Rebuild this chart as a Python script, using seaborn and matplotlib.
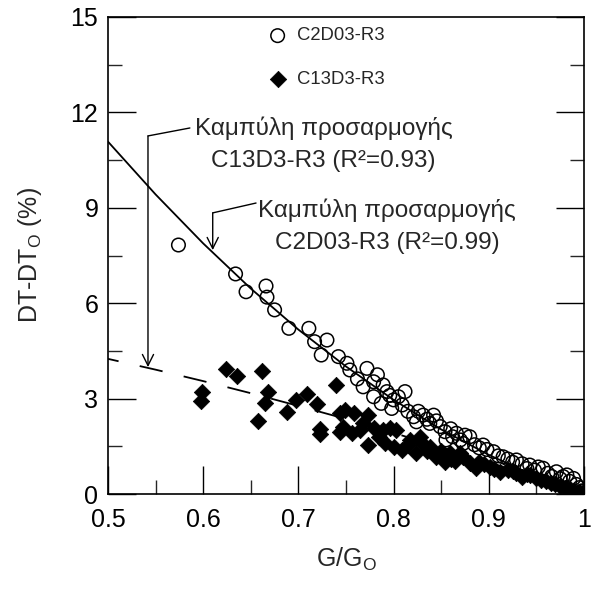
import matplotlib
matplotlib.use("Agg")
import matplotlib.pyplot as plt
from matplotlib.ticker import MultipleLocator
import numpy as np
import pandas as pd
import seaborn as sns

# ---- data ----
c2_g = [0.574, 0.634, 0.645, 0.666, 0.667, 0.675, 0.690, 0.711, 0.717, 0.730,
        0.724, 0.742, 0.751, 0.754, 0.772, 0.768, 0.779, 0.779, 0.789, 0.793,
        0.787, 0.800, 0.805, 0.812, 0.809, 0.798, 0.821, 0.824, 0.831, 0.842,
        0.838, 0.849, 0.854, 0.866, 0.855, 0.880, 0.873, 0.894, 0.905, 0.915,
        0.929, 0.943, 0.957, 0.971, 0.982, 0.989, 0.762, 0.783, 0.796, 0.815,
        0.826, 0.835, 0.845, 0.860, 0.862, 0.870, 0.875, 0.885, 0.890, 0.898,
        0.910, 0.920, 0.925, 0.935, 0.940, 0.948, 0.952, 0.962, 0.966, 0.975,
        0.978, 0.985, 0.992, 0.995, 0.998, 1.000, 0.999]
c2_dt = [7.83, 6.92, 6.36, 6.54, 6.19, 5.79, 5.21, 5.21, 4.79, 4.84,
         4.37, 4.32, 4.11, 3.90, 3.95, 3.37, 3.53, 3.06, 3.43, 3.22,
         2.85, 2.96, 3.06, 3.22, 2.80, 2.69, 2.43, 2.27, 2.48, 2.48,
         2.22, 2.12, 1.96, 1.91, 1.70, 1.80, 1.59, 1.54, 1.33, 1.17,
         1.07, 0.91, 0.81, 0.70, 0.60, 0.49, 3.62, 3.75, 3.10, 2.60,
         2.60, 2.35, 2.30, 2.05, 1.80, 1.70, 1.85, 1.55, 1.45, 1.40,
         1.20, 1.10, 1.00, 0.95, 0.80, 0.75, 0.85, 0.65, 0.55, 0.48,
         0.55, 0.40, 0.30, 0.20, 0.10, 0.03, 0.08]

c13_g = [0.599, 0.598, 0.624, 0.636, 0.662, 0.668, 0.665, 0.658, 0.688, 0.698,
         0.709, 0.720, 0.723, 0.723, 0.740, 0.744, 0.744, 0.749, 0.758, 0.773,
         0.768, 0.747, 0.756, 0.779, 0.789, 0.796, 0.803, 0.773, 0.791, 0.800,
         0.809, 0.824, 0.817, 0.828, 0.838, 0.845, 0.854, 0.859, 0.873, 0.880,
         0.887, 0.901, 0.912, 0.929, 0.943, 0.950, 0.955, 0.960, 0.965, 0.970,
         0.975, 0.980, 0.985, 0.990, 0.995, 1.000, 0.920, 0.935, 0.860, 0.870,
         0.890, 0.815, 0.835, 0.785, 0.765, 0.830, 0.850, 0.865, 0.895, 0.905,
         0.925, 0.940]
c13_dt = [3.22, 2.92, 3.92, 3.71, 3.87, 3.22, 2.85, 2.30, 2.59, 2.96,
          3.14, 2.83, 2.03, 1.89, 3.43, 2.55, 1.96, 2.64, 2.54, 2.48,
          2.22, 2.12, 1.91, 2.06, 2.01, 2.06, 2.01, 1.54, 1.59, 1.49,
          1.38, 1.28, 1.70, 1.80, 1.49, 1.17, 1.02, 1.28, 1.17, 0.97,
          0.81, 0.86, 0.70, 0.65, 0.60, 0.50, 0.45, 0.40, 0.35, 0.30,
          0.25, 0.20, 0.15, 0.10, 0.05, 0.00, 0.75, 0.55, 1.10, 1.30,
          1.00, 1.55, 1.35, 1.80, 2.00, 1.60, 1.35, 1.05, 0.95, 0.80,
          0.72, 0.62]

fit_g = [0.50, 0.55, 0.60, 0.65, 0.70, 0.75, 0.80, 0.85, 0.90, 0.95, 1.00]
fit_c2 = [11.08, 9.42, 7.88, 6.46, 5.17, 4.01, 2.96, 2.03, 1.23, 0.55, 0.00]
fit_c13 = [4.25, 3.91, 3.55, 3.17, 2.77, 2.36, 1.92, 1.47, 1.00, 0.51, 0.00]

x_ticks = [0.5, 0.6, 0.7, 0.8, 0.9, 1.0]
x_ticklabels = ["0.5", "0.6", "0.7", "0.8", "0.9", "1"]
y_ticks = [0, 3, 6, 9, 12, 15]

label_c2 = "C2D03-R3"
label_c13 = "C13D3-R3"
ann_c13 = "Καμπύλη προσαρμογής\nC13D3-R3 (R²=0.93)"
ann_c2 = "Καμπύλη προσαρμογής\nC2D03-R3 (R²=0.99)"

# ---- style ----
sns.set_style("ticks")
plt.rcParams["font.family"] = ["Liberation Sans", "DejaVu Sans"]
plt.rcParams["mathtext.fontset"] = "custom"
plt.rcParams["mathtext.rm"] = "Liberation Sans"
plt.rcParams["mathtext.it"] = "Liberation Sans:italic"
plt.rcParams["mathtext.bf"] = "Liberation Sans:bold"

W, H = 593, 603
fig = plt.figure(figsize=(W / 100, H / 100), dpi=100)
ax = fig.add_axes([108 / W, 109 / H, 476 / W, 477 / H])

df_c2 = pd.DataFrame({"g": c2_g, "dt": c2_dt})
df_c13 = pd.DataFrame({"g": c13_g, "dt": c13_dt})
df_fit = pd.DataFrame({"g": fit_g, "c2": fit_c2, "c13": fit_c13})

sns.scatterplot(data=df_c2, x="g", y="dt", ax=ax, marker="o", s=95,
                facecolors="none", edgecolor="black", linewidth=1.1,
                label=label_c2, zorder=3)
sns.scatterplot(data=df_c13, x="g", y="dt", ax=ax, marker="D", s=70,
                color="black", edgecolor="black", linewidth=0.5,
                label=label_c13, zorder=4)
sns.lineplot(data=df_fit, x="g", y="c2", ax=ax, color="black", linewidth=1.3,
             zorder=5, legend=False)
sns.lineplot(data=df_fit, x="g", y="c13", ax=ax, color="black", linewidth=1.3,
             linestyle=(7, (13, 12)), zorder=5, legend=False)

ax.set_xlim(0.5, 1.0)
ax.set_ylim(0, 15)
ax.set_xticks(x_ticks, x_ticklabels)
ax.set_yticks(y_ticks)
ax.xaxis.set_minor_locator(MultipleLocator(0.05))
ax.yaxis.set_minor_locator(MultipleLocator(1.5))
ax.tick_params(which="major", direction="in", length=20.5, width=1.0,
               labelsize=18, right=True, top=False, colors="black")
ax.tick_params(axis="y", which="major", pad=7)
ax.tick_params(axis="x", which="major", pad=10)
ax.tick_params(which="minor", direction="in", length=10, width=1.0,
               right=True, top=False)
for sp in ax.spines.values():
    sp.set_visible(True)
    sp.set_linewidth(1.2)
    sp.set_color("black")

ax.set_xlabel("G/G$_\\mathrm{O}$", fontsize=18, labelpad=10)
ax.set_ylabel("DT-DT$_\\mathrm{O}$ (%)", fontsize=18, labelpad=19)

leg = ax.legend(loc="upper left", bbox_to_anchor=(0.335, 0.978), frameon=False,
                fontsize=13.3, handlelength=1.1, handletextpad=0.5,
                labelspacing=1.45, borderaxespad=0, borderpad=0)

# ---- annotations ----
ax.annotate("", xy=(0.542, 3.99), xytext=(0.542, 11.26),
            arrowprops=dict(arrowstyle="->", color="black", lw=1.0,
                            shrinkA=0, shrinkB=0, mutation_scale=20))
ax.plot([0.586, 0.542], [11.51, 11.26], color="black", lw=1.0)
ax.text(0.591, 11.0, ann_c13, fontsize=17.5, ha="left", va="center",
        multialignment="center", linespacing=1.6)

ax.annotate("", xy=(0.610, 7.67), xytext=(0.610, 8.84),
            arrowprops=dict(arrowstyle="->", color="black", lw=1.0,
                            shrinkA=0, shrinkB=0, mutation_scale=20))
ax.plot([0.6555, 0.610], [9.15, 8.84], color="black", lw=1.0)
ax.text(0.658, 8.42, ann_c2, fontsize=17.5, ha="left", va="center",
        multialignment="center", linespacing=1.6)

fig.savefig("out.png", dpi=100)
